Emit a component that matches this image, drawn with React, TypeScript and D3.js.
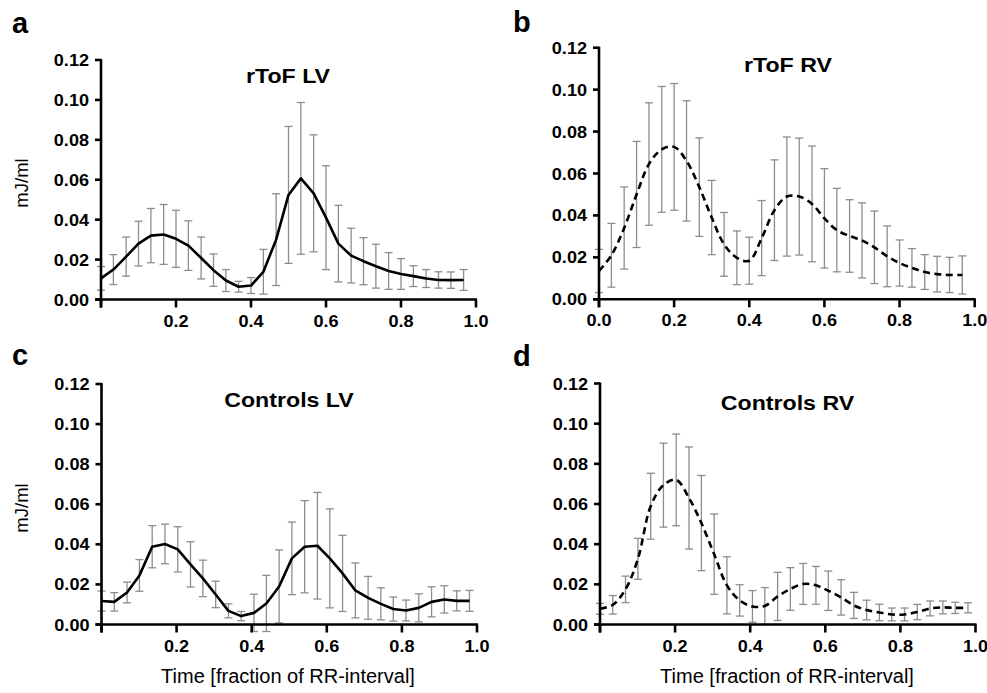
import React from 'react';
import * as d3 from 'd3';

// time points (fraction of RR-interval)
const timesTof = [0, 0.033, 0.067, 0.1, 0.133, 0.167, 0.2, 0.233, 0.267, 0.3, 0.333, 0.367, 0.4, 0.433, 0.467,
	0.5, 0.533, 0.567, 0.6, 0.633, 0.667, 0.7, 0.733, 0.767, 0.8, 0.833, 0.867, 0.9, 0.933, 0.967];
const timesCtrl = [0, 0.034, 0.068, 0.101, 0.135, 0.169, 0.203, 0.237, 0.27, 0.304, 0.338, 0.372, 0.406, 0.439, 0.473,
	0.507, 0.541, 0.575, 0.608, 0.642, 0.676, 0.71, 0.744, 0.777, 0.811, 0.845, 0.879, 0.913, 0.946, 0.98];

// rToF LV
const tofLvMean = [0.0106, 0.015, 0.0215, 0.028, 0.032, 0.0326, 0.0304, 0.027, 0.0208, 0.0147, 0.0095, 0.0064, 0.007, 0.0139, 0.03,
	0.0524, 0.0607, 0.0532, 0.041, 0.028, 0.022, 0.0192, 0.0167, 0.0143, 0.0128, 0.0117, 0.0105, 0.0098, 0.0097, 0.0098];
const tofLvSd = [0.0059, 0.0075, 0.0098, 0.0112, 0.0136, 0.015, 0.0143, 0.0124, 0.0105, 0.0081, 0.0055, 0.0027, 0.004, 0.0112, 0.023,
	0.0343, 0.038, 0.0293, 0.026, 0.0192, 0.0137, 0.0118, 0.011, 0.0092, 0.0077, 0.0052, 0.0045, 0.0041, 0.0041, 0.0052];

// rToF RV
const tofRvMean = [0.0135, 0.021, 0.034, 0.05, 0.0645, 0.0715, 0.0727, 0.066, 0.0535, 0.039, 0.0262, 0.0198, 0.0184, 0.0292, 0.0425,
	0.049, 0.049, 0.0455, 0.0386, 0.033, 0.0302, 0.0281, 0.0248, 0.0205, 0.0173, 0.015, 0.013, 0.012, 0.0116, 0.0116];
const tofRvSd = [0.0103, 0.0152, 0.0196, 0.0253, 0.0292, 0.03, 0.0302, 0.0287, 0.0235, 0.0177, 0.0152, 0.0128, 0.0112, 0.0179, 0.024,
	0.0284, 0.0279, 0.0276, 0.0237, 0.0199, 0.0173, 0.0179, 0.0173, 0.0145, 0.011, 0.0092, 0.0083, 0.0085, 0.0084, 0.0091];

// Controls LV
const ctrlLvMean = [0.0117, 0.0113, 0.016, 0.0245, 0.0388, 0.0402, 0.0375, 0.03, 0.023, 0.015, 0.0068, 0.0042, 0.0058, 0.0105, 0.019,
	0.033, 0.0388, 0.0393, 0.033, 0.0255, 0.017, 0.0133, 0.0103, 0.0077, 0.007, 0.0083, 0.0113, 0.0125, 0.0118, 0.0118];
const ctrlLvSd = [0.005, 0.0046, 0.0052, 0.0079, 0.0105, 0.0099, 0.0113, 0.0113, 0.0091, 0.0066, 0.0035, 0.0023, 0.0093, 0.014, 0.0182,
	0.0181, 0.023, 0.0266, 0.0247, 0.019, 0.0137, 0.0107, 0.008, 0.006, 0.0052, 0.007, 0.0075, 0.0068, 0.005, 0.0052];

// Controls RV
const ctrlRvMean = [0.0078, 0.0098, 0.0175, 0.0327, 0.0589, 0.0694, 0.072, 0.063, 0.0505, 0.035, 0.0195, 0.012, 0.009, 0.0092, 0.014,
	0.0177, 0.0202, 0.0195, 0.0168, 0.0135, 0.0095, 0.0072, 0.006, 0.005, 0.005, 0.0062, 0.008, 0.0085, 0.0083, 0.0083];
const ctrlRvSd = [0.0027, 0.0046, 0.0066, 0.0102, 0.0164, 0.0209, 0.0228, 0.0254, 0.0237, 0.02, 0.0142, 0.0078, 0.0079, 0.0092, 0.012,
	0.0106, 0.0102, 0.0094, 0.0098, 0.0088, 0.0065, 0.0049, 0.0041, 0.0032, 0.0032, 0.0038, 0.0037, 0.0032, 0.0028, 0.0025];

const yTicks = [0, 0.02, 0.04, 0.06, 0.08, 0.1, 0.12];
const xTicks = [0.2, 0.4, 0.6, 0.8, 1.0];
const xTicksWithZero = [0, 0.2, 0.4, 0.6, 0.8, 1.0];

const FONT = '"Liberation Sans", Arial, Helvetica, sans-serif';

function Panel(props) {
	const {times, mean, sd, left, right, bottom, top, dashed, title, letter, letterPos, titlePos, yLabel, xLabel, ticks} = props;
	const x = d3.scaleLinear().domain([0, 1]).range([left, right]);
	const y = d3.scaleLinear().domain([0, 0.12]).range([bottom, top]);

	const pts = times.map((t, i) => ({t, m: mean[i], s: sd[i]}));
	const line = d3.line()
		.x(d => x(d.t))
		.y(d => y(d.m))
		.curve(dashed ? d3.curveCatmullRom.alpha(0.5) : d3.curveLinear);

	const cap = 4;
	const stretch = 1.13;

	return (
		<g>
			<text x={letterPos[0]} y={letterPos[1]} fontFamily={FONT} fontWeight="bold" fontSize={29}>{letter}</text>
			<text transform={`translate(${titlePos[0]},${titlePos[1]}) scale(${stretch},1)`} textAnchor="middle"
				fontFamily={FONT} fontWeight="bold" fontSize={20.5}>{title}</text>

			{/* error bars */}
			<g stroke="#8d8d8d" strokeWidth={1.3} fill="none">
				{pts.map((d, i) => (
					<g key={i}>
						<line x1={x(d.t)} x2={x(d.t)} y1={y(d.m + d.s)} y2={y(d.m - d.s)}/>
						<line x1={x(d.t) - cap} x2={x(d.t) + cap} y1={y(d.m + d.s)} y2={y(d.m + d.s)}/>
						<line x1={x(d.t) - cap} x2={x(d.t) + cap} y1={y(d.m - d.s)} y2={y(d.m - d.s)}/>
					</g>
				))}
			</g>

			{/* mean curve */}
			<path d={line(pts)} fill="none" stroke="#000" strokeWidth={2.6}
				strokeDasharray={dashed ? '7,4.5' : null} strokeLinejoin="round"/>

			{/* axes */}
			<g stroke="#000" strokeWidth={2.6}>
				<line x1={left} x2={left} y1={y(0.12) - 1} y2={bottom + 8}/>
				<line x1={left - 6} x2={right + 1} y1={bottom} y2={bottom}/>
				{yTicks.map(v => <line key={v} x1={left - 6} x2={left} y1={y(v)} y2={y(v)}/>)}
				{xTicksWithZero.map(v => <line key={v} x1={x(v)} x2={x(v)} y1={bottom} y2={bottom + 8}/>)}
			</g>
			<g fontFamily={FONT} fontWeight="bold" fontSize={16} fill="#000">
				{yTicks.map(v => (
					<text key={v} transform={`translate(${left - 12},${y(v) + 6}) scale(${stretch},1)`} textAnchor="end">
						{d3.format('.2f')(v)}
					</text>
				))}
				{ticks.map(v => (
					<text key={v} transform={`translate(${x(v)},${bottom + 27}) scale(${stretch},1)`} textAnchor="middle">
						{d3.format('.1f')(v)}
					</text>
				))}
			</g>
			{yLabel && (
				<text transform={`translate(${yLabel[0]},${yLabel[1]}) rotate(-90)`} textAnchor="middle"
					fontFamily={FONT} fontSize={18.5}>mJ/ml</text>
			)}
			{xLabel && (
				<text x={xLabel[0]} y={xLabel[1]} textAnchor="middle" fontFamily={FONT} fontSize={20}>
					Time [fraction of RR-interval]
				</text>
			)}
		</g>
	);
}

export default function App() {
	return (
		<svg width={987} height={693} style={{position: 'absolute', left: 0, top: 0, background: '#fff'}}>
			<Panel times={timesTof} mean={tofLvMean} sd={tofLvSd} left={101} right={476} bottom={299.5} top={60}
				dashed={false} title="rToF LV" letter="a" letterPos={[12, 33]} titlePos={[288, 83]}
				yLabel={[28, 183]} ticks={xTicks}/>
			<Panel times={timesTof} mean={tofRvMean} sd={tofRvSd} left={599} right={974.7} bottom={299.3} top={47.7}
				dashed={true} title="rToF RV" letter="b" letterPos={[513, 32]} titlePos={[788, 71.5]}
				ticks={xTicksWithZero}/>
			<Panel times={timesCtrl} mean={ctrlLvMean} sd={ctrlLvSd} left={101.5} right={477} bottom={624.5} top={384}
				dashed={false} title="Controls LV" letter="c" letterPos={[12, 365]} titlePos={[289, 407]}
				yLabel={[28, 508]} xLabel={[288, 683]} ticks={xTicks}/>
			<Panel times={timesCtrl} mean={ctrlRvMean} sd={ctrlRvSd} left={600} right={975.5} bottom={624.5} top={383.5}
				dashed={true} title="Controls RV" letter="d" letterPos={[513, 366]} titlePos={[787.5, 410]}
				xLabel={[787, 683]} ticks={xTicks}/>
		</svg>
	);
}
